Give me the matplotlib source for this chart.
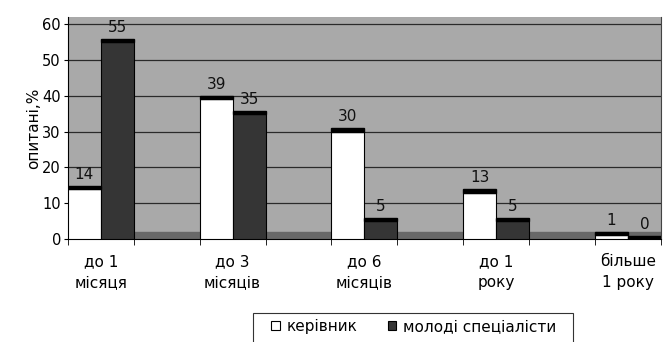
import numpy as np
import matplotlib
matplotlib.use("Agg")
import matplotlib.pyplot as plt
from matplotlib.patches import Rectangle

plt.rcParams['font.family'] = ['DejaVu Sans']

categories = ["до 1\nмісяця", "до 3\nмісяців", "до 6\nмісяців", "до 1\nроку", "більше\n1 року"]
kerivnyk = [14, 39, 30, 13, 1]
molodi = [55, 35, 5, 5, 0]
series_names = ["керівник", "молоді спеціалісти"]
yticks = [0, 10, 20, 30, 40, 50, 60]

fig = plt.figure(figsize=(6.65, 3.42), dpi=100)
ax = fig.add_axes([0.102, 0.301, 0.892, 0.649])

x = np.arange(len(categories))
w = 0.25

ax.set_facecolor("#a9a9a9")
# floor strip
ax.axhspan(0, 2.0, color="#686868", zorder=1)
for t in yticks[1:]:
    ax.axhline(t, color="#2a2a2a", lw=0.9, zorder=1.5)

ax.bar(x - w / 2, kerivnyk, w, color="white", edgecolor="black", lw=0.8, zorder=3)
ax.bar(x + w / 2, molodi, w, color="#353535", edgecolor="black", lw=0.8, zorder=3)

# dark top edge of each bar + value labels
for xs, vals in ((x - w / 2, kerivnyk), (x + w / 2, molodi)):
    for xi, v in zip(xs, vals):
        ax.add_patch(Rectangle((xi - w / 2, v), w, 0.9, color="black", zorder=4))
        ax.text(xi, v + 2.0, str(v), ha="center", va="bottom", fontsize=11, color="#111111", zorder=5)

ax.set_xlim(-0.25, len(categories) - 0.75)
ax.set_ylim(0, 62)
ax.set_yticks(yticks)
ax.set_xticks(x)
ax.set_xticklabels(categories, fontsize=11, linespacing=1.45)
ax.tick_params(axis="x", length=0, pad=11)
ax.set_xticks(np.concatenate([x - 0.25, x + 0.25]), minor=True)
ax.tick_params(axis="x", which="minor", length=4, color="black")
ax.tick_params(axis="y", labelsize=10.5, length=3, pad=2)
ax.set_ylabel("опитані,%", fontsize=11, labelpad=1)

ax.spines["top"].set_visible(False)
ax.spines["right"].set_color("#444444")
ax.spines["left"].set_color("black")
ax.spines["bottom"].set_color("black")

# legend entries without frame, box drawn separately so it runs off the bottom edge
handles = [Rectangle((0, 0), 1, 1, facecolor="white", edgecolor="black", lw=0.8),
           Rectangle((0, 0), 1, 1, facecolor="#353535", edgecolor="black", lw=0.8)]
fig.legend(handles, series_names, loc="center left", bbox_to_anchor=(0.408, 0.045),
           ncol=2, fontsize=11, frameon=False,
           handlelength=0.55, handleheight=0.55, handletextpad=0.45, columnspacing=2.0,
           borderpad=0, borderaxespad=0)
fig.patches.append(Rectangle((253 / 665, -0.02), 320 / 665, 0.105, transform=fig.transFigure,
                             facecolor="none", edgecolor="#333333", lw=0.8))

fig.savefig("out.png", dpi=100, facecolor="white")
